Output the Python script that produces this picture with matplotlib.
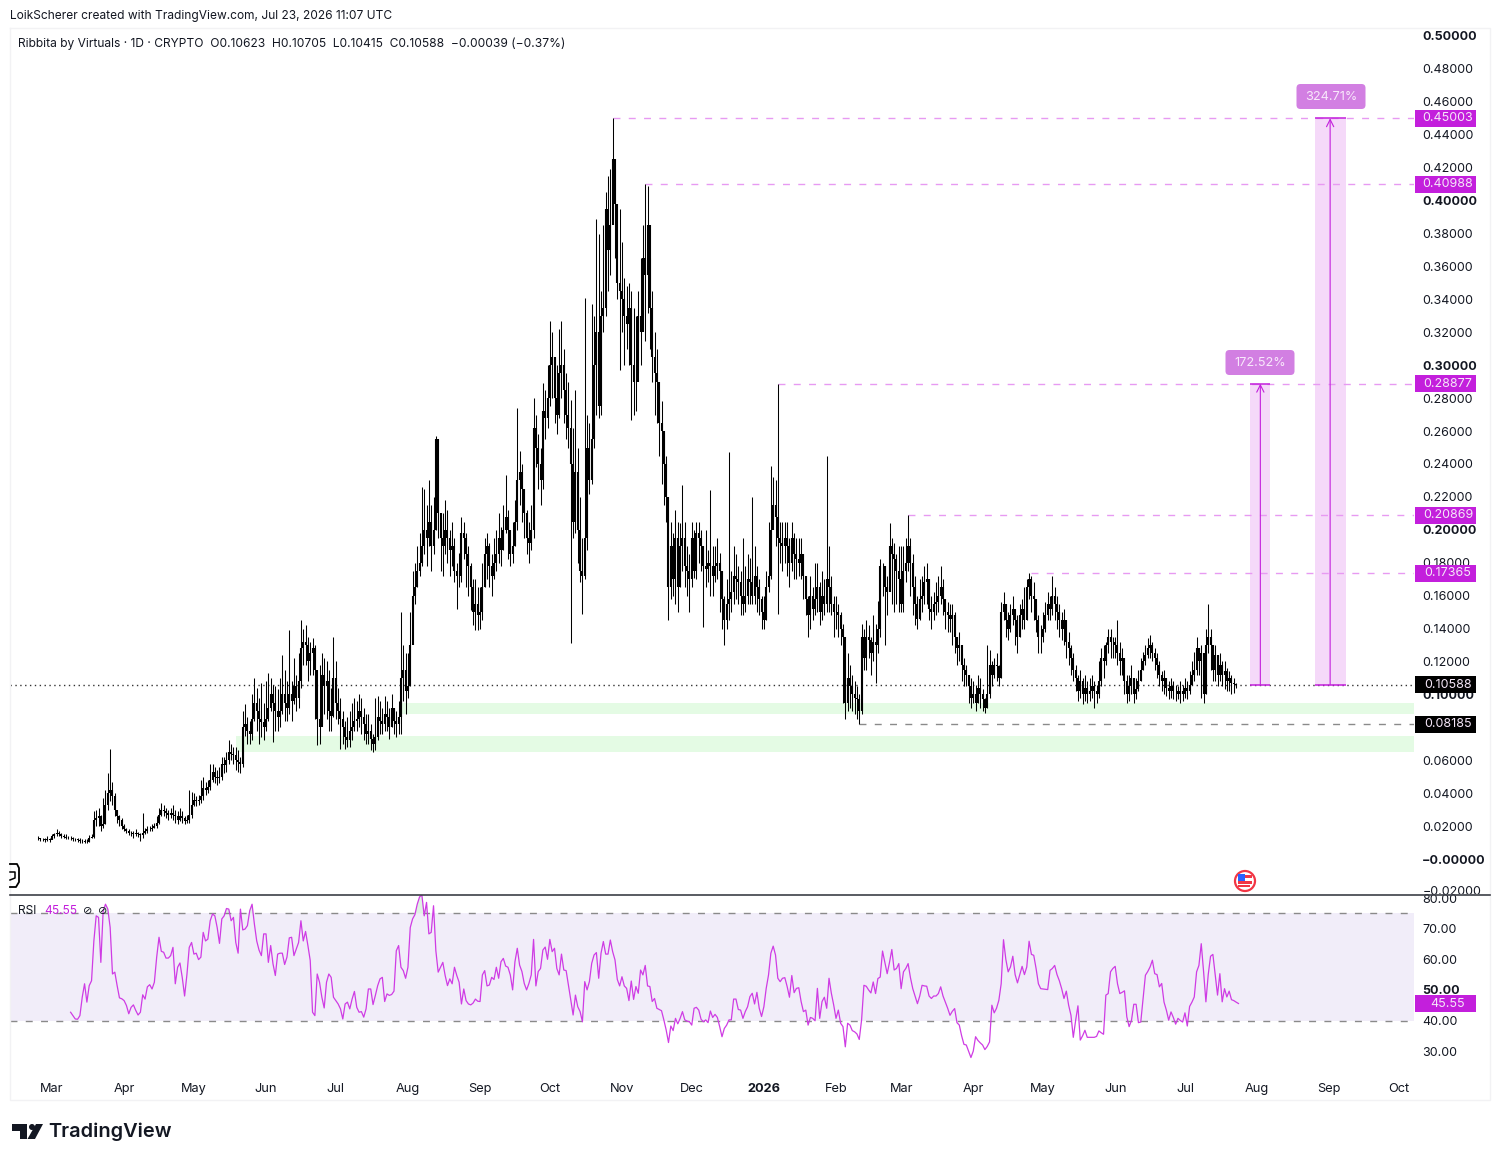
import datetime
import numpy as np
import matplotlib
matplotlib.use('Agg')
import matplotlib.pyplot as plt
import matplotlib.dates as mdates
from matplotlib.patches import Rectangle, Circle, FancyBboxPatch, Polygon
from matplotlib.transforms import Bbox, blended_transform_factory

plt.rcParams['font.family'] = ['Inter', 'DejaVu Sans']

# first day of each run of candles
month_starts = ['2025-02-23', '2025-03-01', '2025-04-01', '2025-05-01', '2025-06-01', '2025-07-01',
                '2025-08-01', '2025-09-01', '2025-10-01', '2025-11-01', '2025-12-01', '2026-01-01',
                '2026-02-01', '2026-03-01', '2026-04-01', '2026-05-01', '2026-06-01', '2026-07-01']

# prices in thousandths, one row per month
closes = [
    [12.5, 12, 12, 11.5, 12, 11.5],
    [14, 15, 16, 15, 14, 13.5, 13, 13, 12.5, 12, 12, 11.5, 11, 11, 10.5, 10.5, 13, 13.5, 24, 25, 26, 20, 21, 33, 40, 42, 38, 30, 26, 24, 20],
    [18.5, 17, 16, 15.5, 15, 16, 15, 14.5, 16, 17, 18, 18, 19, 20, 22, 27, 30, 29, 28, 27, 28, 27, 26, 24, 26, 25, 23, 24, 27, 33],
    [36, 35, 36, 38, 43, 42, 44, 48, 53, 50, 49, 50, 58, 57, 60, 65, 64, 63, 60, 59, 58, 80, 82, 78, 76, 85, 95, 90, 85, 83, 80],
    [85, 92, 100, 95, 90, 86, 90, 100, 95, 92, 100, 96, 105, 98, 108, 128, 132, 130, 120, 125, 128, 115, 85, 80, 112, 105, 108, 90, 87, 110],
    [95, 90, 85, 80, 74, 72, 78, 80, 84, 85, 90, 86, 82, 76, 78, 73, 70, 74, 86, 84, 82, 88, 86, 80, 92, 84, 82, 86, 110, 115, 102],
    [105, 130, 160, 165, 175, 180, 190, 200, 195, 205, 190, 200, 255, 210, 195, 190, 200, 195, 188, 190, 175, 172, 172, 198, 195, 185, 178, 165, 150, 155, 148],
    [150, 165, 185, 190, 178, 172, 180, 185, 195, 188, 200, 208, 200, 185, 190, 205, 230, 235, 225, 210, 195, 192, 200, 262, 250, 240, 230, 272, 268, 280],
    [300, 305, 280, 270, 295, 300, 285, 270, 262, 240, 205, 235, 200, 175, 172, 195, 250, 230, 255, 300, 320, 275, 330, 335, 395, 370, 385, 425, 398, 350, 345],
    [340, 330, 325, 335, 300, 290, 290, 330, 320, 365, 355, 385, 335, 305, 295, 290, 265, 260, 240, 220, 165, 190, 170, 195, 165, 190, 195, 178, 175, 170],
    [195, 175, 198, 195, 190, 178, 176, 180, 178, 172, 178, 180, 175, 158, 145, 155, 158, 162, 172, 170, 168, 160, 155, 160, 170, 168, 160, 172, 165, 158, 150],
    [145, 165, 172, 200, 215, 208, 195, 192, 190, 195, 190, 180, 195, 185, 182, 180, 185, 172, 158, 148, 160, 152, 158, 165, 150, 160, 155, 170, 165, 155, 150],
    [150, 148, 140, 135, 95, 110, 105, 100, 98, 97, 90, 135, 122, 135, 133, 125, 132, 130, 140, 178, 178, 165, 162, 190, 185, 182, 175, 170],
    [155, 175, 180, 190, 180, 165, 155, 146, 158, 160, 168, 170, 152, 150, 155, 156, 160, 165, 158, 150, 148, 146, 148, 135, 128, 130, 118, 115, 112, 105, 98],
    [100, 95, 104, 100, 97, 92, 100, 118, 112, 118, 117, 110, 150, 155, 145, 140, 148, 152, 145, 135, 148, 152, 145, 165, 170, 160, 158, 145, 135, 135],
    [140, 148, 155, 152, 160, 155, 150, 145, 140, 145, 132, 128, 122, 115, 110, 102, 108, 100, 104, 100, 102, 105, 102, 100, 108, 122, 120, 130, 135, 132, 132],
    [130, 125, 120, 122, 108, 100, 105, 110, 100, 103, 108, 115, 120, 124, 128, 130, 125, 122, 118, 112, 108, 110, 104, 102, 105, 102, 102, 100, 102, 100],
    [104, 102, 106, 112, 115, 128, 120, 125, 100, 130, 135, 130, 115, 124, 112, 118, 112, 114, 108, 110, 107, 106.2, 105.88],
]
highs = [
    [14, 13, 13, 12.5, 14, 13],
    [15, 16, 18, 17, 16, 15, 15, 14, 14, 13.5, 13, 13, 12.5, 12, 12, 12, 14.5, 15, 29, 30, 31, 27, 37, 42, 52, 67, 47, 40, 30, 27, 25],
    [21, 19, 18, 17, 17, 18, 16.5, 16, 28, 19, 20, 20, 21, 22, 26, 31, 34, 33, 31, 30, 31, 33, 30, 29, 31, 29, 26, 27, 42, 41],
    [40, 38, 39, 48, 50, 47, 48, 58, 58, 56, 54, 56, 62, 62, 65, 72, 70, 68, 68, 66, 62, 90, 94, 86, 84, 100, 110, 104, 98, 107, 95],
    [108, 113, 110, 106, 105, 103, 110, 124, 115, 108, 139, 108, 122, 112, 125, 145, 140, 142, 135, 132, 134, 130, 105, 118, 125, 122, 120, 115, 104, 135],
    [120, 104, 98, 90, 84, 86, 90, 95, 98, 96, 100, 98, 92, 88, 88, 82, 76, 98, 99, 96, 92, 99, 96, 92, 100, 92, 90, 96, 150, 130, 125],
    [125, 150, 175, 180, 190, 198, 226, 225, 215, 230, 215, 220, 257, 240, 205, 210, 218, 212, 200, 205, 195, 180, 186, 208, 205, 198, 190, 180, 170, 170, 165],
    [165, 180, 195, 198, 192, 185, 195, 200, 210, 202, 215, 233, 212, 200, 205, 218, 274, 248, 240, 225, 212, 205, 215, 280, 270, 258, 250, 289, 285, 300],
    [327, 320, 305, 300, 322, 327, 310, 295, 290, 279, 262, 285, 250, 220, 195, 341, 270, 265, 337, 330, 389, 380, 345, 385, 405, 415, 419, 450.03, 419, 395, 395],
    [375, 353, 348, 350, 345, 335, 330, 345, 365, 385, 409.88, 409, 365, 345, 320, 310, 285, 278, 258, 245, 220, 205, 198, 212, 205, 204, 227, 205, 190, 185],
    [205, 200, 205, 205, 200, 190, 200, 188, 224, 190, 190, 195, 186, 175, 160, 170, 247, 175, 190, 185, 178, 175, 195, 178, 185, 183, 220, 190, 178, 170, 160],
    [160, 175, 205, 239, 232, 230, 288.77, 205, 205, 205, 205, 195, 205, 198, 195, 195, 195, 185, 170, 160, 172, 165, 180, 180, 168, 175, 170, 245, 190, 172, 160],
    [160, 155, 150, 143, 125, 125, 118, 112, 108, 105, 100, 143, 140, 145, 142, 135, 148, 143, 157, 182, 180, 178, 172, 204, 195, 192, 185, 190],
    [190, 190, 195, 208.69, 195, 185, 172, 160, 170, 172, 178, 180, 170, 160, 162, 168, 172, 178, 170, 158, 156, 155, 155, 150, 135, 138, 125, 122, 118, 112, 110],
    [108, 106, 112, 110, 103, 98, 130, 127, 120, 122, 125, 118, 156, 162, 155, 150, 155, 160, 150, 148, 155, 158, 165, 170, 173.65, 172, 168, 155, 148, 142],
    [150, 156, 162, 160, 172, 165, 160, 155, 150, 152, 145, 138, 130, 125, 118, 112, 115, 110, 112, 108, 110, 112, 108, 106, 120, 128, 130, 132, 140, 140, 135],
    [135, 145, 132, 128, 122, 112, 112, 118, 108, 110, 115, 122, 126, 130, 134, 136, 132, 128, 125, 120, 114, 115, 110, 108, 110, 108, 106, 105, 108, 106],
    [110, 108, 114, 120, 126, 135, 128, 130, 122, 140, 155, 140, 128, 130, 124, 125, 120, 120, 116, 114, 112, 110, 107.05],
]
lows = [
    [11.5, 11, 11, 10.5, 11, 10.5],
    [12, 13, 14, 14, 13, 12.5, 12, 12, 11.5, 11, 11, 10.5, 10, 10, 9.5, 9.5, 10.5, 12.5, 13, 20, 20, 17, 19, 21, 30, 35, 33, 26, 22, 20, 18],
    [17, 15.5, 14.5, 14, 13, 14, 13.5, 11, 13, 15, 16, 17, 17, 19, 19, 21, 26, 26, 25, 24, 25, 24, 22, 21, 23, 22, 21, 22, 22, 25],
    [32, 32, 33, 34, 36, 39, 40, 42, 47, 46, 45, 46, 48, 52, 53, 58, 60, 58, 54, 53, 52, 56, 75, 70, 70, 72, 84, 78, 70, 74, 72],
    [78, 84, 90, 71, 78, 78, 80, 88, 84, 84, 88, 84, 94, 90, 92, 104, 118, 118, 108, 112, 112, 85, 69, 70, 82, 88, 85, 78, 78, 86],
    [85, 82, 67, 70, 67, 68, 68, 72, 78, 78, 80, 76, 72, 70, 70, 66, 65, 66, 72, 76, 76, 78, 78, 73, 80, 76, 74, 76, 76, 96, 88],
    [98, 105, 150, 155, 165, 172, 178, 185, 178, 190, 175, 185, 200, 195, 175, 172, 185, 180, 172, 178, 168, 152, 165, 168, 182, 165, 160, 151, 142, 139, 139],
    [140, 145, 165, 170, 165, 160, 170, 175, 180, 178, 188, 198, 182, 178, 180, 190, 200, 215, 205, 195, 185, 180, 188, 195, 238, 225, 215, 225, 255, 262],
    [275, 280, 265, 258, 268, 280, 265, 255, 250, 131, 195, 198, 180, 168, 149, 170, 188, 222, 228, 250, 270, 268, 270, 320, 330, 345, 355, 395, 365, 340, 297],
    [320, 300, 310, 300, 267, 270, 272, 295, 300, 330, 315, 332, 310, 290, 270, 265, 245, 228, 215, 205, 145, 158, 160, 155, 150, 165, 175, 165, 160, 150],
    [165, 171, 170, 180, 175, 141, 165, 168, 160, 160, 168, 170, 150, 140, 130, 140, 145, 150, 155, 158, 155, 148, 148, 150, 155, 155, 155, 155, 150, 148, 140],
    [140, 145, 162, 170, 205, 190, 149, 180, 175, 180, 172, 165, 175, 170, 170, 172, 170, 158, 148, 135, 140, 145, 148, 150, 142, 145, 148, 150, 150, 148, 135],
    [140, 135, 130, 95, 85, 90, 92, 90, 88, 85, 81.85, 88, 115, 115, 122, 112, 120, 107, 125, 135, 160, 130, 148, 165, 155, 150, 155, 150],
    [150, 150, 168, 175, 160, 148, 142, 140, 145, 150, 155, 155, 145, 140, 145, 148, 150, 155, 148, 140, 138, 138, 130, 125, 118, 120, 108, 105, 105, 95, 92],
    [95, 90, 95, 92, 90, 89, 92, 98, 105, 110, 108, 105, 110, 145, 135, 133, 138, 142, 130, 125, 135, 140, 140, 145, 158, 150, 145, 138, 125, 125],
    [132, 138, 145, 145, 148, 145, 140, 135, 133, 130, 122, 118, 112, 108, 102, 96, 98, 94, 96, 95, 96, 98, 92, 95, 98, 105, 110, 118, 125, 122, 122],
    [122, 118, 112, 112, 100, 95, 96, 100, 95, 97, 102, 108, 115, 118, 122, 122, 120, 115, 110, 105, 102, 100, 99, 97, 98, 97, 96, 97, 95, 96],
    [98, 97, 100, 106, 108, 112, 112, 98, 95, 100, 125, 115, 108, 108, 105, 108, 105, 103, 102, 102, 100, 101, 104.15],
]

rsi_start = '2025-03-09'
rsi_values = [
    42.7, 41.6, 40.5, 40.4, 41.6, 47.6, 52, 46, 51.4, 53, 66, 74.2, 73.7, 59, 75.9, 78, 76.4, 70.4, 55.2, 55.8, 51.4, 47.4, 47.1,
    46.5, 44.9, 42.2, 44.3, 45.1, 43.3, 41.8, 42.7, 48.4, 47, 51, 51.7, 50.3, 52.5, 60.7, 67.2, 62.6, 62.3, 60.4, 60.4, 61.2, 63.9, 52, 57.4, 58.8, 54, 48, 55, 63.9, 65.5,
    61.7, 62, 59.9, 60.7, 68.8, 66, 66.6, 72.6, 74.8, 74.2, 70.4, 65.2, 73.2, 74.2, 76.6, 76.4, 72.6, 73.7, 65.5, 62, 76.4, 69.6, 69.9, 71, 75.9, 78, 71.5, 66, 63, 61.2, 68.3,
    68.3, 59, 64.5, 58.5, 54.7, 61.7, 62, 62, 58.3, 60.7, 67, 67.2, 61.2, 63.4, 65.5, 72.6, 66, 69.1, 64.5, 59.6, 42.7, 41.6, 55.2, 52.5, 47.6, 44.1, 52.5, 55.2, 54.1, 47.6,
    46.5, 45.4, 43.8, 40.5, 45.4, 46, 43.8, 47, 49.5, 44.3, 42.7, 42.9, 41.1, 43.8, 50.3, 50.3, 45.2, 48.2, 51.4, 53.6, 54.1, 46.2, 48.7, 48.2, 48.5, 49.6, 62.8, 64.5, 57.4, 56.3, 53.8,
    57.4, 70.4, 73.2, 74.6, 78, 80.4, 81, 74.2, 78.6, 68.3, 68.8, 77.5, 62.8, 55.8, 57.4, 59, 54.7, 51.4, 53.6, 52, 57.4, 54.7, 52.5, 45.4, 50.3, 46.5, 45.4, 45.1, 45.7, 47, 46.3,
    46.2, 54.9, 56.3, 51.3, 51.6, 54.1, 53.4, 57.4, 53.8, 59.2, 60.3, 57.8, 57.4, 54.9, 50, 59.2, 63.6, 58.1, 56, 52.1, 50, 52.1, 54.9, 66.5, 51.3, 56, 57, 63, 64, 60,
    66.5, 62.5, 63.6, 57, 54.9, 61.7, 56.5, 56.3, 51.6, 46.7, 41.8, 48.3, 44.5, 42.9, 39.6, 52.7, 50, 52.7, 58.7, 61.4, 62.2, 53.8, 62, 65.8, 61.7, 61.7, 66.3, 62.5, 59.8, 53.4, 51.3,
    54.3, 51.3, 50.5, 46.5, 52.9, 46.9, 51.1, 48.9, 56.5, 54.9, 58, 51.3, 51.1, 46.2, 47.2, 44, 43.6, 43.2, 40.2, 36.9, 32.8, 38.2, 36.7, 40.7, 38.9, 40.7, 42.9, 40.2, 39.8, 39.6,
    38.5, 44, 44.3, 43.4, 40.4, 39.6, 40.2, 39.3, 43.1, 41, 42, 41, 38, 34.7, 37.4, 38.5, 40.2, 40.2, 47, 47, 43.6, 43.4, 40.7, 42.9, 44.5, 47.8, 48.9, 45.4, 49.2, 44, 41.3,
    44.5, 50.5, 54.9, 62, 64.3, 61.4, 53.8, 52.7, 53.8, 54, 51.1, 47.6, 54.7, 49.1, 50.5, 50.7, 46.2, 42.9, 43.4, 38.5, 41, 40.7, 39.9, 50.5, 40.7, 46.2, 47.6, 44, 53.8, 48.9, 45.1,
    40.7, 43.4, 39.1, 38, 31.4, 39.1, 38.5, 36.7, 36.3, 35.6, 33.8, 40.2, 51.5, 51.2, 50, 49, 52.6, 48.8, 53.7, 54.2, 62.7, 59, 55.3, 59, 63.2, 56.5, 57, 58.6,
    50.4, 55.9, 57, 58.6, 54, 50.4, 48, 45.5, 48, 51.5, 51.3, 51.2, 48, 47.2, 48, 48, 48.8, 51, 48, 46, 44, 41.7, 43, 43.9, 39.3, 38.5, 35, 32.2, 32, 30, 27.9, 30,
    34.7, 33.5, 32.7, 32, 30.5, 31.5, 33, 45, 42.5, 44, 46.6, 52, 66.4, 60, 55.9, 57.5, 61, 55, 52.3, 55, 57.7, 55, 57.5, 65.9, 61.6, 61.3, 57, 52, 50.4, 50.3,
    50.2, 50.1, 56.4, 57, 58, 55, 53, 50.4, 47.2, 49.6, 45, 41.7, 34.5, 40, 44.8, 33.6, 35, 36.8, 34.5, 34.5, 34.5, 34.5, 34.8, 36.6, 36, 35.5, 48.3, 48.8, 55.9, 57, 57.7,
    52, 48.8, 49.2, 49.7, 41.2, 38, 40, 45.3, 45.3, 39.3, 39.5, 47.2, 54.8, 56, 57.5, 59.7, 55.3, 55, 51, 52.1, 46, 43.4, 40.1, 42.8, 41, 38.8, 40.7, 40, 39.5, 42.5,
    38.2, 44.6, 46, 47.7, 55.9, 58, 65.1, 56, 46.1, 55, 61, 61.6, 55, 48.3, 55.3, 46.1, 50.4, 47.7, 49.6, 46.8, 46.5, 46, 45.55,
]

price_ticks = [0.5, 0.48, 0.46, 0.44, 0.42, 0.4, 0.38, 0.36, 0.34, 0.32, 0.3, 0.28, 0.26, 0.24, 0.22, 0.2, 0.18, 0.16, 0.14, 0.12, 0.1, 0.08, 0.06, 0.04, 0.02, 0.0]
bold_prices = [0.5, 0.4, 0.3, 0.2, 0.1, 0.0]
rsi_ticks = [80, 70, 60, 50, 40, 30]
month_ticks = ['2025-03-01', '2025-04-01', '2025-05-01', '2025-06-01', '2025-07-01', '2025-08-01', '2025-09-01', '2025-10-01', '2025-11-01',
               '2025-12-01', '2026-01-01', '2026-02-01', '2026-03-01', '2026-04-01', '2026-05-01', '2026-06-01', '2026-07-01', '2026-08-01', '2026-09-01', '2026-10-01']
month_labels = ['Mar', 'Apr', 'May', 'Jun', 'Jul', 'Aug', 'Sep', 'Oct', 'Nov', 'Dec', '2026', 'Feb', 'Mar', 'Apr', 'May', 'Jun', 'Jul', 'Aug', 'Sep', 'Oct']

# level lines: price, first day
levels = [(0.45003, '2025-10-28'), (0.40988, '2025-11-11'), (0.28877, '2026-01-07'), (0.20869, '2026-03-04'), (0.17365, '2026-04-26')]
low_level = (0.08185, '2026-02-11')
last_price = 0.10588
green_zones = [(0.0881, 0.0948, '2025-07-28'), (0.0650, 0.0747, '2025-05-19')]

MAGENTA = '#c31fdc'
TICK_SIZE = 9.0
W, H = 1500, 1161


def dnum(s):
    return mdates.date2num(datetime.date.fromisoformat(s))


fig = plt.figure(figsize=(W / 100, H / 100), dpi=100, facecolor='white')
ax = fig.add_axes([10 / W, (H - 894) / H, 1404 / W, 866 / H])
ax2 = fig.add_axes([10 / W, (H - 1100) / H, 1404 / W, 205 / H])
ov = fig.add_axes([0, 0, 1, 1], zorder=10)
ov.set_xlim(0, W)
ov.set_ylim(H, 0)
ov.axis('off')
ov.patch.set_alpha(0)

xmin = dnum('2025-03-01') - 18.05
xmax = dnum('2026-10-01') + 6.45

# candles
x_all, o_all, c_all, h_all, l_all = [], [], [], [], []
prev = closes[0][0]
for start, cs, hs, ls in zip(month_starts, closes, highs, lows):
    for i, (c, h, l) in enumerate(zip(cs, hs, ls)):
        x_all.append(dnum(start) + i)
        o_all.append(prev / 1000)
        c_all.append(c / 1000)
        h_all.append(h / 1000)
        l_all.append(l / 1000)
        prev = c

for lo, hi, first in green_zones:
    ax.axhspan(lo, hi, xmin=(dnum(first) - xmin) / (xmax - xmin), color='#e4fbe4', lw=0, zorder=1)

ax.vlines(x_all, l_all, h_all, color='black', lw=0.75, zorder=3)
ax.vlines(x_all, o_all, c_all, color='black', lw=1.5, zorder=3)

ax.axhline(last_price, color='#333333', lw=1, ls=(0, (1, 2.5)), zorder=2)
for price, first in levels:
    ax.hlines(price, dnum(first), xmax, color='#e79af2', lw=1, linestyles=(0, (5, 6)), zorder=2)
ax.hlines(low_level[0], dnum(low_level[1]), xmax, color='#8a8a8a', lw=1, linestyles=(0, (5, 6)), zorder=2)

# long position tools
tools = [(last_price, 0.28877, '2026-07-29', 8.6, 4.4), (last_price, 0.45003, '2026-08-26', 13.3, 6.4)]
for bottom, top, left, wid, mid in tools:
    x0 = dnum(left)
    ax.add_patch(Rectangle((x0, bottom), wid, top - bottom, fc='#f5d9f9', ec='none', zorder=1.5))
    ax.hlines([bottom, top], x0, x0 + wid, color=MAGENTA, lw=1.1, zorder=4)
    ax.annotate('', xy=(x0 + mid, top), xytext=(x0 + mid, bottom), zorder=4,
                arrowprops=dict(arrowstyle='->', color=MAGENTA, lw=0.8, shrinkA=0, shrinkB=0, mutation_scale=13))

ax.set_xlim(xmin, xmax)
ax.set_ylim(-0.02126, 0.50486)
ax.yaxis.tick_right()
ax.set_yticks(price_ticks)
ax.set_yticklabels(['−0.00000' if p == 0 else '%.5f' % p for p in price_ticks])
for p, lab in zip(price_ticks, ax.get_yticklabels()):
    lab.set_fontsize(TICK_SIZE)
    lab.set_color('#131722')
    if p in bold_prices:
        lab.set_fontweight('bold')
ax.tick_params(axis='y', length=0, pad=6)
ax.set_xticks([])
for s in ax.spines.values():
    s.set_visible(False)


# price tags right of the scale border, all the same size
def price_tag(axis, value, text, color):
    tr = blended_transform_factory(axis.transAxes, axis.transData)
    y0, y1 = axis.get_ylim()
    pane_h = axis.get_position().height * H
    tag_h = 17 * (y1 - y0) / pane_h
    axis.add_patch(Rectangle(((1415 - 10) / 1404, value - tag_h / 2), 61 / 1404, tag_h, transform=tr,
                             fc=color, ec='none', zorder=5, clip_on=False))
    axis.text((1448 - 10) / 1404, value, text, transform=tr, ha='center', va='center', fontsize=TICK_SIZE,
              color='#f5e6f8', zorder=6, clip_on=False)


for price, _ in levels:
    price_tag(ax, price, '%.5f' % price, MAGENTA)
price_tag(ax, last_price, '0.10588', 'black')
price_tag(ax, low_level[0], '0.08185', 'black')

# RSI pane
rsi_x = dnum(rsi_start) + np.arange(len(rsi_values))
rsi_arr = np.array(rsi_values, dtype=float)
ax2.axhspan(40, 75, color='#f1edf9', lw=0, zorder=1)
ax2.fill_between(rsi_x, 75, rsi_arr, where=rsi_arr > 75, interpolate=True, color='#dff3e2', lw=0, zorder=1.5)
ax2.axhline(75, color='#8a8a8a', lw=1, ls=(0, (5, 6)), zorder=2)
ax2.axhline(40, color='#8a8a8a', lw=1, ls=(0, (5, 6)), zorder=2)
ax2.plot(rsi_x, rsi_arr, color='#cf3ce4', lw=0.9, zorder=3)
ax2.set_xlim(xmin, xmax)
ax2.set_ylim(40 + (1020.5 - 1100) / 3.06, 40 + (1020.5 - 895) / 3.06)
ax2.yaxis.tick_right()
ax2.set_yticks(rsi_ticks)
ax2.set_yticklabels(['%.2f' % r for r in rsi_ticks])
for r, lab in zip(rsi_ticks, ax2.get_yticklabels()):
    lab.set_fontsize(TICK_SIZE)
    lab.set_color('#131722')
    if r == 50:
        lab.set_fontweight('bold')
ax2.tick_params(axis='y', length=0, pad=6)
ax2.set_xticks([dnum(m) for m in month_ticks])
ax2.set_xticklabels(month_labels)
for name, lab in zip(month_labels, ax2.get_xticklabels()):
    lab.set_fontsize(9.2)
    lab.set_color('#131722')
    if name == '2026':
        lab.set_fontweight('bold')
ax2.tick_params(axis='x', length=0, pad=-12.5)
for s in ax2.spines.values():
    s.set_visible(False)
price_tag(ax2, 45.55, '45.55', MAGENTA)

# frame and separator
ov.plot([10, 1490, 1490, 10, 10], [28, 28, 1100, 1100, 28], color='#f2f2f4', lw=1)
ov.plot([10, 1490], [894.5, 894.5], color='#3c3f47', lw=1.2)

# -0.02 label is cut by the pane border
cut = ov.text(1423, 892, '−0.02000', fontsize=TICK_SIZE, color='#131722', ha='left', va='center')
cut.set_clip_box(Bbox([[0, H - 894], [W, H]]))
cut.set_clip_on(True)

# header texts
ov.text(10, 16.5, 'LoikScherer created with TradingView.com, Jul 23, 2026 11:07 UTC', fontsize=8.6, color='#131722', ha='left', va='center')
ov.text(18, 43.5, 'Ribbita by Virtuals · 1D · CRYPTO  O0.10623  H0.10705  L0.10415  C0.10588  −0.00039 (−0.37%)',
        fontsize=8.65, color='#131722', ha='left', va='center')
ov.text(18, 911.5, 'RSI', fontsize=8.6, color='#131722', ha='left', va='center')
ov.text(44, 911.5, '45.55', fontsize=8.6, color=MAGENTA, ha='left', va='center')
ov.text(88, 911, '⊘', fontsize=8, color='#131722', ha='center', va='center', family='DejaVu Sans')
ov.text(103, 911, '⊘', fontsize=8, color='#131722', ha='center', va='center', family='DejaVu Sans')

# percent labels
for cx, cy, text in [(1260, 362.5, '172.52%'), (1331, 96.5, '324.71%')]:
    ov.add_patch(FancyBboxPatch((cx - 32, cy - 10), 64, 20, boxstyle='round,pad=2.5,rounding_size=4', fc='#d27fe2', ec='none'))
    ov.text(cx, cy, text, fontsize=9.2, color='#f8e8fb', ha='center', va='center')

# small corner mark
ov.plot([10, 17, 19, 19, 16, 10], [864, 864, 868, 882, 887, 887], color='black', lw=1.3)
ov.plot([10, 15, 15, 10], [872, 872, 878, 880], color='black', lw=1.1)

# event flag
ov.add_patch(Circle((1245, 881), 10, fc='white', ec='#f23645', lw=1.6))
ov.add_patch(Rectangle((1238, 875), 14, 3, fc='#f23645', ec='none'))
ov.add_patch(Rectangle((1238, 881), 14, 3, fc='#f23645', ec='none'))
ov.add_patch(Rectangle((1238, 885), 12, 2, fc='#f23645', ec='none'))
ov.add_patch(Rectangle((1238, 874), 7, 7, fc='#2962ff', ec='none'))

# logo
ov.add_patch(Polygon([[12, 1124], [27, 1124], [27, 1139], [20, 1139], [20, 1131], [12, 1131]], fc='#131722', ec='none'))
ov.add_patch(Circle((32, 1127), 3, fc='#131722', ec='none'))
ov.add_patch(Polygon([[36, 1124], [43, 1124], [35, 1139], [27.5, 1139]], fc='#131722', ec='none'))
ov.text(48, 1132, 'TradingView', fontsize=14.4, fontweight='semibold', color='#131722', ha='left', va='center')

fig.savefig('out.png', dpi=100)
